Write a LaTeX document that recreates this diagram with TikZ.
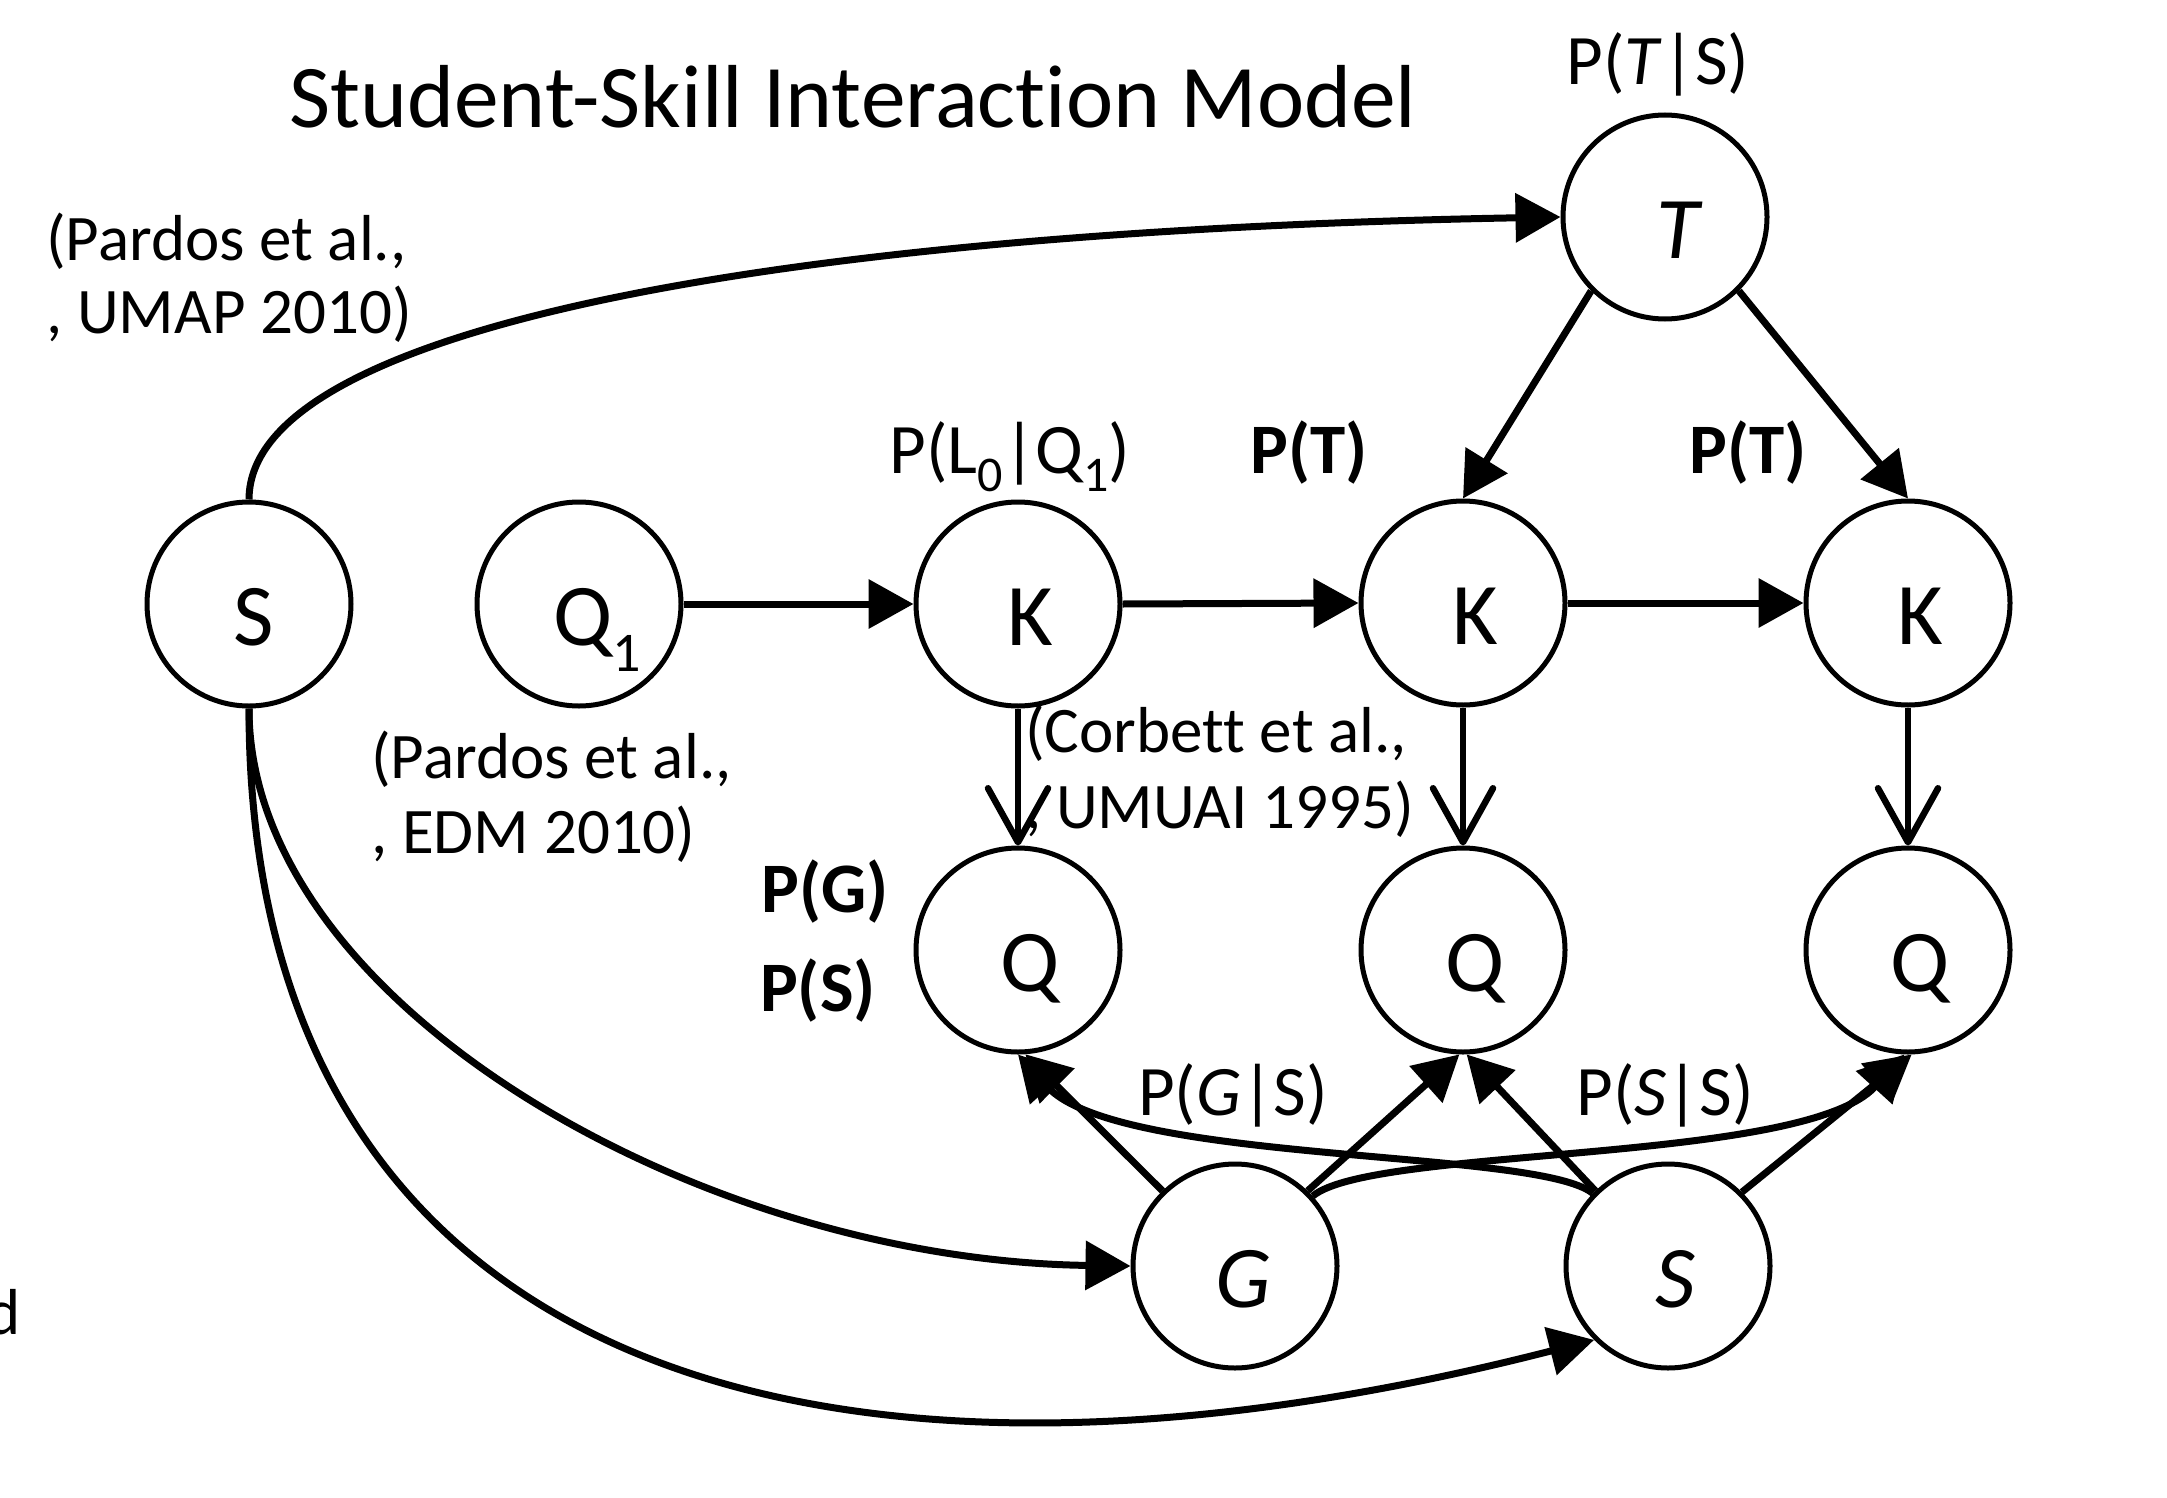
\documentclass[tikz,border=0pt]{standalone}
\usepackage{fontspec}
\setmainfont{Carlito}[Ligatures={NoCommon}]
\usetikzlibrary{arrows.meta}
\newcommand\lowsub[1]{\raisebox{-18pt}{\fontsize{50}{50}\selectfont #1}}
\begin{document}
\begin{tikzpicture}[x=1pt,y=-1pt,
  nd/.style={circle,draw,line width=5pt,minimum size=204pt,inner sep=0pt,
             text height=82pt,text depth=0pt,font=\fontsize{88}{100}\selectfont},
  con/.style={line width=7pt,-{Triangle[length=45pt,width=48pt]}},
  barb/.style={line width=6.5pt,-{Straight Barb[length=54pt,width=60pt,round]}},
  plab/.style={font=\fontsize{71}{80}\selectfont,inner sep=0pt,anchor=base},
  blab/.style={font=\fontsize{71}{80}\selectfont\bfseries,inner sep=0pt,anchor=base},
  cite/.style={font=\fontsize{65}{76}\selectfont,inner sep=0pt,anchor=base west},
]
\useasboundingbox (0,0) rectangle (2167,1498);

% nodes
\node[nd] (S)  at (249,604)  {\hspace*{10pt}S};
\node[nd] (Q1) at (579,604)  {\hspace*{36pt}Q\raisebox{-26pt}{\fontsize{56}{58}\selectfont 1}};
\node[nd] (K1) at (1018,604) {\hspace*{24pt}K};
\node[nd] (K2) at (1463,603) {\hspace*{24pt}K};
\node[nd] (K3) at (1908,603) {\hspace*{24pt}K};
\node[nd] (T)  at (1665,217) {\hspace*{26pt}\itshape T};
\node[nd] (Qa) at (1018,950) {\hspace*{24pt}Q};
\node[nd] (Qb) at (1463,950) {\hspace*{24pt}Q};
\node[nd] (Qc) at (1908,950) {\hspace*{24pt}Q};
\node[nd] (G)  at (1235,1266) {\hspace*{16pt}\itshape G};
\node[nd] (SS) at (1668,1266) {\hspace*{14pt}\itshape S};

% texts
\node[font=\fontsize{89.5}{100}\selectfont,inner sep=0pt,anchor=base] (title) at (853,128) {Student-Skill Interaction Model};
\node[plab] (pts) at (1658,85) {P(\textit{T}|S)};
\node[plab] (pl0) at (1010,473) {P(L\lowsub{0}|Q\lowsub{1})};
\node[blab] (pt1) at (1309,473) {P(T)};
\node[blab] (pt2) at (1748,473) {P(T)};
\node[blab] (pg) at (825,912) {P(G)};
\node[blab] (ps) at (818,1011) {P(S)};
\node[plab] (pgs) at (1233,1115) {P(\textit{G}|S)};
\node[plab] (pss) at (1665,1115) {P(\textit{S}|S)};
\node[cite] (c1a) at (46,260) {(Pardos et al.,};
\node[cite] (c1b) at (46,333) {, UMAP 2010)};
\node[cite] (c2a) at (371,778) {(Pardos et al.,};
\node[cite] (c2b) at (371,853) {, EDM 2010)};
\node[cite] (c3a) at (1025,752) {(Corbett et al.,};
\node[cite] (c3b) at (1025,828) {, UMUAI 1995)};
\node[cite,anchor=base east] (d) at (21,1334) {d};

% connectors
\draw[con] (S.north) .. controls +(0,-175) and +(-765,14) .. (T.west);
\draw[con] (Q1.east) -- (K1.west);
\draw[con] (K1.east) -- (K2.west);
\draw[con] (K2.east) -- (K3.west);
\draw[con] (T.225) -- (K2.north);
\draw[con] (T.-45) -- (K3.north);
\draw[barb] (K1.south) -- (Qa.north);
\draw[barb] (K2.south) -- (Qb.north);
\draw[barb] (K3.south) -- (Qc.north);
\draw[con] (S.south) .. controls +(0,294) and +(-433,-6) .. (G.west);
\draw[con] (S.south) .. controls +(0,660) and +(-780,200) .. (SS.225);
\draw[con] (G.134) -- (Qa.-86);
\draw[con] (G.46) -- (Qb.-92);
\draw[con] (SS.134) -- (Qb.-88);
\draw[con] (SS.45) -- (Qc.-88);
\draw[con] (G.42) .. controls +(60,-50) and +(-100,110) .. (Qc.-92);
\draw[con] (SS.136) .. controls +(-55,-45) and +(100,110) .. (Qa.-90);
\end{tikzpicture}
\end{document}
